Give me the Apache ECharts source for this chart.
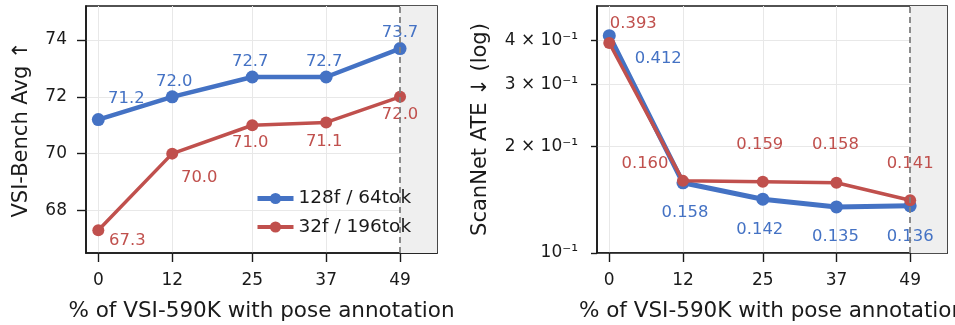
<!DOCTYPE html>
<html>
<head>
<meta charset="utf-8">
<script src="https://cdn.jsdelivr.net/npm/echarts@6/dist/echarts.min.js"></script>
<style>
  html, body { margin: 0; padding: 0; background: #fff; }
  #chart { width: 955px; height: 325px; }
</style>
</head>
<body>
<div id="chart"></div>
<script>
// data
const pctPose = [0, 12, 25, 37, 49];
const seriesNames = ["128f / 64tok", "32f / 196tok"];
const vsi128 = [71.2, 72.0, 72.7, 72.7, 73.7];
const vsi32 = [67.3, 70.0, 71.0, 71.1, 72.0];
const ate128 = [0.412, 0.158, 0.142, 0.135, 0.136];
const ate32 = [0.393, 0.160, 0.159, 0.158, 0.141];
const vsiTicks = [68, 70, 72, 74];
const ateTicks = [0.1, 0.2, 0.3, 0.4];
const ateTickText = { 1: "10\u207B\u00B9", 2: "2 \u00D7 10\u207B\u00B9", 3: "3 \u00D7 10\u207B\u00B9", 4: "4 \u00D7 10\u207B\u00B9" };

// label offsets (px) for each point, like the annotate() offsets
const offVsi128 = [[28, -21], [2, -15], [-2, -15], [-2, -15], [0, -16]];
const offVsi32 = [[29, 10], [27, 24], [-2, 18], [-2, 19], [0, 18]];
const offAte128 = [[49, 23], [2, 30], [-3, 31], [-1, 30], [0, 31]];
const offAte32 = [[24, -19], [-38, -17], [-3, -37], [-1, -38], [0, -37]];

const BLUE = "#4472C4";
const RED = "#C0504D";
const FONT = "DejaVu Sans";
const INK = "#1a1a1a";

function pts(ys, offs, color, digits) {
  return ys.map((y, i) => ({
    value: [pctPose[i], y],
    label: {
      show: true,
      position: "inside",
      offset: offs[i],
      color: color,
      fontSize: 16.4,
      fontFamily: FONT,
      formatter: (p) => p.value[1].toFixed(digits),
    },
  }));
}

const shade = {
  silent: true,
  itemStyle: { color: "#efefef" },
  data: [[{ xAxis: 49 }, { xAxis: 55 }]],
};
const vline = {
  silent: true,
  symbol: "none",
  label: { show: false },
  lineStyle: { color: "#808080", type: [6, 4], width: 1.8 },
  data: [{ xAxis: 49 }],
};

function xAxisCfg(idx) {
  return {
    type: "value",
    gridIndex: idx,
    min: -2,
    max: 55,
    name: "% of VSI-590K with pose annotation",
    nameLocation: "middle",
    nameGap: 47,
    nameTextStyle: { fontSize: 21.5, fontFamily: FONT, color: INK },
    axisLine: { show: true, onZero: false, lineStyle: { color: INK, width: 1.6 } },
    axisTick: { show: true, length: 9, customValues: pctPose, lineStyle: { color: INK, width: 1.4 } },
    axisLabel: { customValues: pctPose, fontSize: 17, fontFamily: FONT, color: INK, margin: 19 },
    splitLine: { show: true, customValues: pctPose, lineStyle: { color: "#e8e8e8", width: 1 } },
  };
}

const chart = echarts.init(document.getElementById("chart"));
chart.setOption({
  animation: false,
  grid: [
    { left: 86, top: 6, width: 351, height: 247, outerBoundsMode: "none", show: true, borderColor: INK, borderWidth: 1.6 },
    { left: 597, top: 6, width: 350, height: 247, outerBoundsMode: "none", show: true, borderColor: INK, borderWidth: 1.6 },
  ],
  legend: {
    data: [
      { name: seriesNames[0], itemStyle: { color: BLUE }, lineStyle: { width: 5, color: BLUE } },
      { name: seriesNames[1], itemStyle: { color: RED }, lineStyle: { width: 4, color: RED } },
    ],
    left: 255,
    top: 189,
    padding: 0,
    orient: "vertical",
    itemWidth: 36,
    itemHeight: 14,
    itemGap: 9.5,
    textStyle: { fontSize: 18.5, fontFamily: FONT, color: INK },
  },
  xAxis: [xAxisCfg(0), xAxisCfg(1)],
  yAxis: [
    {
      type: "value",
      gridIndex: 0,
      min: 66.5,
      max: 75.2,
      name: "VSI-Bench Avg \u2191",
      nameLocation: "middle",
      nameGap: 54,
      nameTextStyle: { fontSize: 21, fontFamily: FONT, color: INK },
      axisLine: { show: true, onZero: false, lineStyle: { color: INK, width: 1.6 } },
      axisTick: { show: true, length: 9, customValues: vsiTicks, lineStyle: { color: INK, width: 1.4 } },
      axisLabel: { customValues: vsiTicks, fontSize: 17, fontFamily: FONT, color: INK, margin: 19 },
      splitLine: { show: true, customValues: vsiTicks, lineStyle: { color: "#e8e8e8", width: 1 } },
    },
    {
      type: "log",
      logBase: 10,
      gridIndex: 1,
      min: 0.1,
      max: 0.5,
      name: "ScanNet ATE \u2193 (log)",
      nameLocation: "middle",
      nameGap: 106,
      nameTextStyle: { fontSize: 21, fontFamily: FONT, color: INK },
      axisLine: { show: true, onZero: false, lineStyle: { color: INK, width: 1.6 } },
      axisTick: { show: true, length: 6, customValues: ateTicks, lineStyle: { color: INK, width: 1.4 } },
      axisLabel: {
        customValues: ateTicks,
        fontSize: 17,
        fontFamily: FONT,
        color: INK,
        margin: 19,
        formatter: (v) => ateTickText[Math.round(v * 10)] || "",
      },
      splitLine: { show: true, customValues: ateTicks, lineStyle: { color: "#e8e8e8", width: 1 } },
    },
  ],
  series: [
    {
      name: seriesNames[0],
      type: "line",
      xAxisIndex: 0,
      yAxisIndex: 0,
      data: pts(vsi128, offVsi128, BLUE, 1),
      color: BLUE,
      lineStyle: { width: 4.5 },
      symbol: "circle",
      symbolSize: 13,
      z: 3,
      markArea: shade,
      markLine: vline,
    },
    {
      name: seriesNames[1],
      type: "line",
      xAxisIndex: 0,
      yAxisIndex: 0,
      data: pts(vsi32, offVsi32, RED, 1),
      color: RED,
      lineStyle: { width: 3.5 },
      symbol: "circle",
      symbolSize: 12,
      z: 3,
    },
    {
      name: seriesNames[0],
      type: "line",
      xAxisIndex: 1,
      yAxisIndex: 1,
      data: pts(ate128, offAte128, BLUE, 3),
      color: BLUE,
      lineStyle: { width: 5 },
      symbol: "circle",
      symbolSize: 13,
      z: 3,
      markArea: shade,
      markLine: vline,
    },
    {
      name: seriesNames[1],
      type: "line",
      xAxisIndex: 1,
      yAxisIndex: 1,
      data: pts(ate32, offAte32, RED, 3),
      color: RED,
      lineStyle: { width: 3.5 },
      symbol: "circle",
      symbolSize: 12,
      z: 4,
    },
  ],
});
</script>
</body>
</html>
